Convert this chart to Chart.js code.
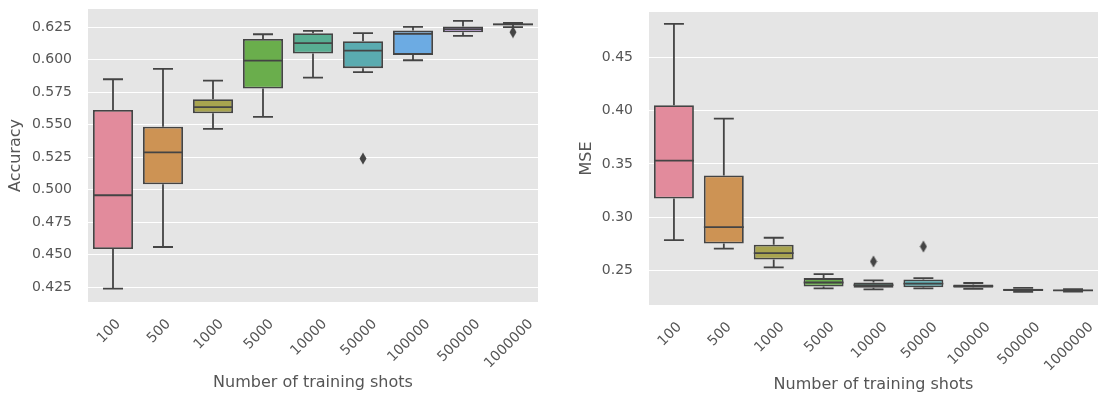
<!DOCTYPE html>
<html><head><meta charset="utf-8">
<script src="https://cdn.jsdelivr.net/npm/chart.js@4.4.1/dist/chart.umd.min.js"></script>
<style>
html,body{margin:0;padding:0;background:#fff;width:1103px;height:400px;overflow:hidden;}
.wrap{position:absolute;top:0;height:400px;}
#w1{left:0;width:545px;}
#w2{left:560px;width:543px;}
</style></head><body>
<div class="wrap" id="w1"><canvas id="c1"></canvas></div>
<div class="wrap" id="w2"><canvas id="c2"></canvas></div>
<script>
// ---- data ----
const shots = ['100','500','1000','5000','10000','50000','100000','500000','1000000'];

const accLow  = [0.424, 0.456, 0.5468, 0.556, 0.5862, 0.5904, 0.5996, 0.6183, 0.6250];
const accQ1   = [0.4545, 0.5042, 0.5588, 0.5778, 0.6047, 0.5935, 0.6037, 0.6211, 0.6265];
const accMed  = [0.4958, 0.5288, 0.5635, 0.5993, 0.6127, 0.6070, 0.6198, 0.6235, 0.6272];
const accQ3   = [0.5614, 0.5485, 0.5696, 0.6160, 0.6204, 0.6142, 0.6224, 0.6255, 0.6278];
const accHigh = [0.585, 0.593, 0.584, 0.6196, 0.6222, 0.6204, 0.6252, 0.6298, 0.6283];
const accOutX = ['50000', '1000000'];
const accOutY = [0.524, 0.6212];

const mseLow  = [0.2787, 0.2708, 0.2531, 0.2335, 0.2325, 0.2335, 0.2330, 0.2302, 0.2305];
const mseQ1   = [0.3177, 0.2755, 0.2605, 0.2352, 0.2340, 0.2345, 0.2340, 0.2310, 0.2310];
const mseMed  = [0.3532, 0.2909, 0.2665, 0.2390, 0.2365, 0.2380, 0.2355, 0.2320, 0.2316];
const mseQ3   = [0.4051, 0.3392, 0.2743, 0.2431, 0.2390, 0.2418, 0.2372, 0.2332, 0.2322];
const mseHigh = [0.4812, 0.3925, 0.2809, 0.2469, 0.2410, 0.2430, 0.2385, 0.2340, 0.2328];
const mseOutX = ['10000', '50000'];
const mseOutY = [0.2587, 0.2727];

const accTicks = [0.425, 0.450, 0.475, 0.500, 0.525, 0.550, 0.575, 0.600, 0.625];
const mseTicks = [0.25, 0.30, 0.35, 0.40, 0.45];

const palette = ['#e28b9c','#cd9354','#a8a44f','#6aae4c','#58ae92','#5aabb0','#6cabe3','#c49ceb','#e384d0'];
const EDGE = '#444444';
const FONT = 'DejaVu Sans';

// thin diamond marker
function diamond(){
  const c = document.createElement('canvas');
  c.width = 8; c.height = 13;
  const g = c.getContext('2d');
  g.fillStyle = EDGE;
  g.beginPath();
  g.moveTo(4,0.5); g.lineTo(7.5,6.5); g.lineTo(4,12.5); g.lineTo(0.5,6.5); g.closePath();
  g.fill();
  return c;
}
const diamondImg = diamond();

const bgPlugin = {
  id: 'plotBg',
  beforeDraw(chart){
    const {ctx, chartArea:a} = chart;
    ctx.save(); ctx.fillStyle = '#e5e5e5';
    ctx.fillRect(a.left, a.top, a.right-a.left, a.bottom-a.top);
    ctx.restore();
    // center rotated labels on the tick (matplotlib ha='center')
    const xs = chart.scales.x;
    const items = xs.getLabelItems();
    items.forEach(it => {
      if (it._shifted) return;
      ctx.save(); ctx.font = it.font.string;
      const w = ctx.measureText(it.label).width;
      ctx.restore();
      it.options.translation[0] += w * 0.3536 - 4;
      it._shifted = true;
    });
  }
};

const whiskerPlugin = {
  id: 'whiskers',
  afterDatasetDraw(chart, args){
    if (args.index !== 0) return;
    const st = chart.options.plugins.whiskers;
    const {ctx} = chart;
    const xs = chart.scales.x, ys = chart.scales.y;
    const meta = chart.getDatasetMeta(0);
    ctx.save();
    ctx.strokeStyle = EDGE; ctx.lineWidth = 1.8; ctx.lineCap = 'butt';
    meta.data.forEach((bar, i) => {
      const x = xs.getPixelForValue(i);
      const w = bar.width;
      const yl = ys.getPixelForValue(st.low[i]);
      const y1 = ys.getPixelForValue(st.q1[i]);
      const ym = ys.getPixelForValue(st.med[i]);
      const y3 = ys.getPixelForValue(st.q3[i]);
      const yh = ys.getPixelForValue(st.high[i]);
      ctx.beginPath();
      ctx.moveTo(x, y3); ctx.lineTo(x, yh);
      ctx.moveTo(x, y1); ctx.lineTo(x, yl);
      ctx.moveTo(x - w/4, yh); ctx.lineTo(x + w/4, yh);
      ctx.moveTo(x - w/4, yl); ctx.lineTo(x + w/4, yl);
      ctx.moveTo(x - w/2, ym); ctx.lineTo(x + w/2, ym);
      ctx.stroke();
    });
    ctx.restore();
  }
};

function makeChart(id, cfg){
  const tickFont = {family: FONT, size: 14};
  const titleFont = {family: FONT, size: 16};
  return new Chart(document.getElementById(id), {
    type: 'bar',
    data: {
      labels: shots,
      datasets: [
        {
          type: 'bar',
          data: cfg.q1.map((v,i) => [v, cfg.q3[i]]),
          backgroundColor: palette,
          borderColor: EDGE,
          borderWidth: 1.8,
          borderSkipped: false,
          barPercentage: 0.8,
          categoryPercentage: 1.0
        },
        {
          type: 'scatter',
          data: cfg.outX.map((x,i) => ({x: x, y: cfg.outY[i]})),
          pointStyle: diamondImg,
          showLine: false
        }
      ]
    },
    options: {
      responsive: true,
      maintainAspectRatio: false,
      animation: false,
      devicePixelRatio: 1,
      layout: {padding: cfg.padding},
      plugins: {
        legend: {display: false},
        tooltip: {enabled: false},
        whiskers: {low: cfg.low, q1: cfg.q1, med: cfg.med, q3: cfg.q3, high: cfg.high}
      },
      scales: {
        x: {
          type: 'category',
          offset: true,
          grid: {display: false, drawTicks: false},
          border: {display: false},
          ticks: {autoSkip: false, minRotation: 45, maxRotation: 45, padding: 14, color: '#555555', font: tickFont},
          title: {display: true, text: 'Number of training shots', color: '#555555', font: titleFont, padding: {bottom: cfg.xTitlePad}},
          afterFit: s => { s.height = cfg.xHeight; s.paddingLeft = 0; s.paddingRight = 0; }
        },
        y: {
          type: 'linear',
          min: cfg.min, max: cfg.max,
          grid: {color: '#ffffff', lineWidth: 1, drawTicks: false},
          border: {display: false},
          afterBuildTicks: s => { s.ticks = cfg.ticks.map(v => ({value: v})); },
          ticks: {padding: 16, color: '#555555', font: tickFont, callback: v => v.toFixed(cfg.dec)},
          title: {display: true, text: cfg.yTitle, color: '#555555', font: titleFont, padding: {top: cfg.yTitlePad}},
          afterFit: s => { s.width = cfg.yWidth; s.paddingTop = 0; s.paddingBottom = 0; }
        }
      }
    },
    plugins: [bgPlugin, whiskerPlugin]
  });
}

makeChart('c1', {
  low: accLow, q1: accQ1, med: accMed, q3: accQ3, high: accHigh,
  outX: accOutX, outY: accOutY, ticks: accTicks, dec: 3,
  min: 0.4137, max: 0.639, yTitle: 'Accuracy',
  padding: {top: 9, right: 7, left: 0, bottom: 0},
  xHeight: 98, yWidth: 88, yTitlePad: 6, xTitlePad: 8
});
makeChart('c2', {
  low: mseLow, q1: mseQ1, med: mseMed, q3: mseQ3, high: mseHigh,
  outX: mseOutX, outY: mseOutY, ticks: mseTicks, dec: 2,
  min: 0.2179, max: 0.4924, yTitle: 'MSE',
  padding: {top: 12, right: 1, left: 0, bottom: 0},
  xHeight: 95, yWidth: 89, yTitlePad: 17, xTitlePad: 6
});
</script>
</body></html>
